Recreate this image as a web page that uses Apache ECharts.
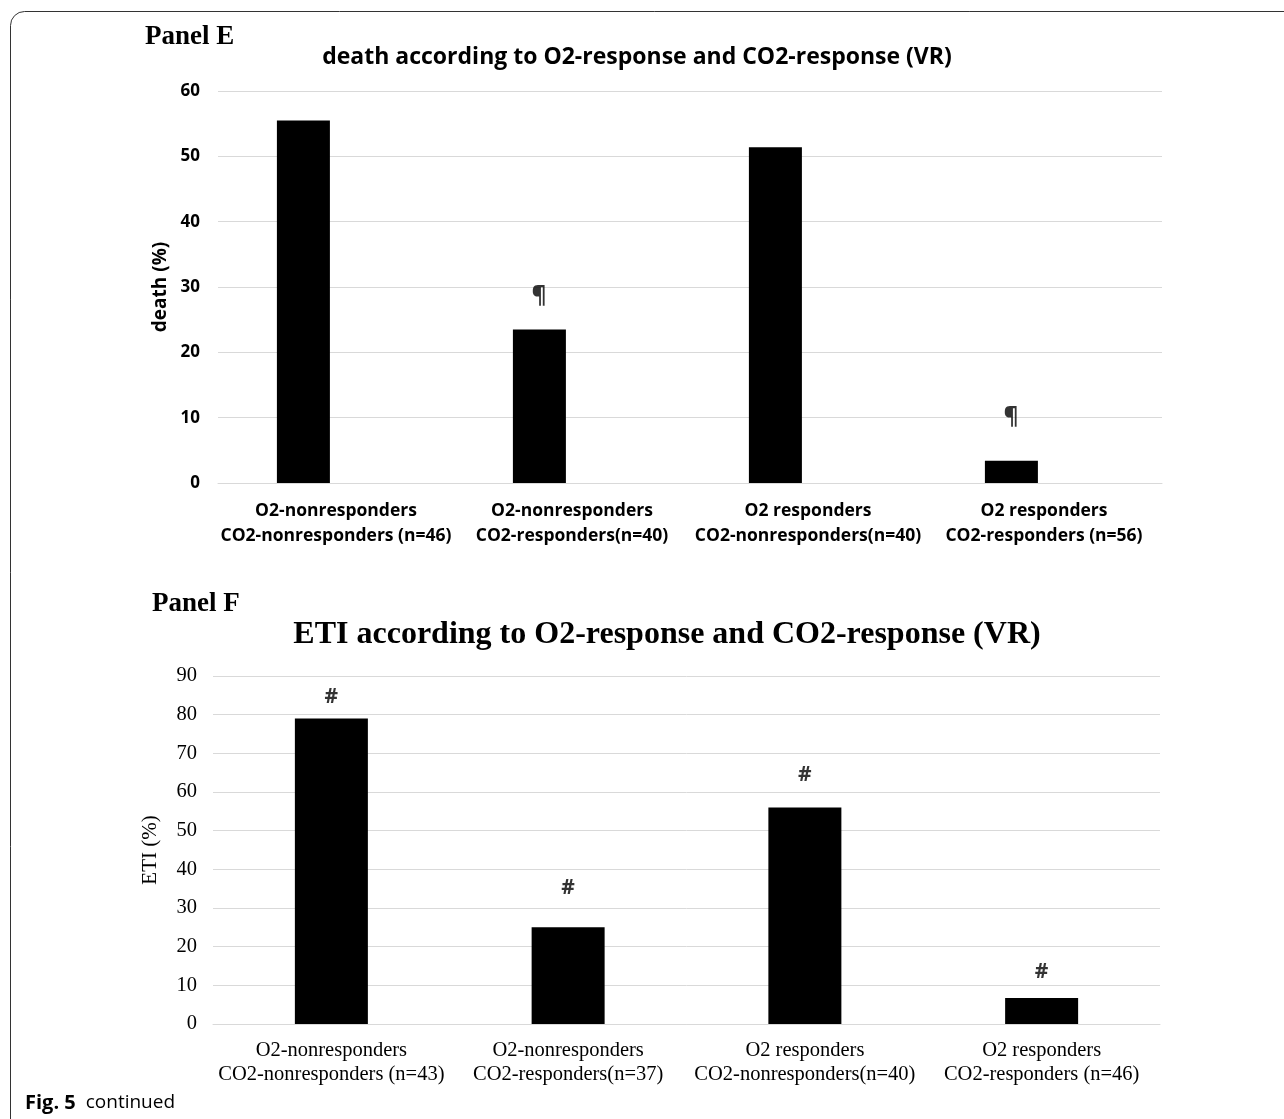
<!DOCTYPE html>
<html>
<head>
<meta charset="utf-8">
<script src="https://cdn.jsdelivr.net/npm/echarts@6/dist/echarts.min.js"></script>
<style>
  html, body { margin: 0; padding: 0; background: #fff; }
  #chart { width: 1284px; height: 1119px; }
</style>
</head>
<body>
<div id="chart"></div>
<script>
// Panel E: mortality by O2 / CO2 ventilatory response
const deathGroups = [
  'O2-nonresponders\nCO2-nonresponders (n=46)',
  'O2-nonresponders\nCO2-responders(n=40)',
  'O2 responders\nCO2-nonresponders(n=40)',
  'O2 responders\nCO2-responders (n=56)'
];
const deathPct = [55.5, 23.5, 51.4, 3.4];
// height (in %) at which the significance sign sits
const deathSignLevel = [null, 28.5, null, 10.0];
const deathAxis = { min: 0, max: 60, step: 10 };

// Panel F: endotracheal intubation by O2 / CO2 ventilatory response
const etiGroups = [
  'O2-nonresponders\nCO2-nonresponders (n=43)',
  'O2-nonresponders\nCO2-responders(n=37)',
  'O2 responders\nCO2-nonresponders(n=40)',
  'O2 responders\nCO2-responders (n=46)'
];
const etiPct = [79, 25, 56, 6.7];
const etiSignLevel = [84.6, 35.2, 64.4, 13.4];
const etiAxis = { min: 0, max: 90, step: 10 };

const SANS = '"Open Sans", "Noto Sans", sans-serif';
const SERIF = '"Liberation Serif", "DejaVu Serif", serif';
const GRID_LINE = '#d9d9d9';

const chart = echarts.init(document.getElementById('chart'), null, { renderer: 'canvas' });

chart.setOption({
  animation: false,
  backgroundColor: '#ffffff',
  grid: [
    { left: 218, right: 122, top: 91, height: 392, containLabel: false },
    { left: 213, right: 124, top: 676, height: 348, containLabel: false }
  ],
  xAxis: [
    {
      type: 'category', gridIndex: 0, data: deathGroups,
      axisLine: { show: true, lineStyle: { color: GRID_LINE, width: 1 } },
      axisTick: { show: false },
      axisLabel: {
        interval: 0, margin: 16, color: '#000',
        fontFamily: SANS, fontWeight: 'bold', fontSize: 17.5, lineHeight: 25
      }
    },
    {
      type: 'category', gridIndex: 1, data: etiGroups,
      axisLine: { show: true, lineStyle: { color: GRID_LINE, width: 1 } },
      axisTick: { show: false },
      axisLabel: {
        interval: 0, margin: 15, color: '#000',
        fontFamily: SERIF, fontSize: 20.5, lineHeight: 24
      }
    }
  ],
  yAxis: [
    {
      type: 'value', gridIndex: 0,
      min: deathAxis.min, max: deathAxis.max, interval: deathAxis.step,
      name: 'death (%)', nameLocation: 'middle', nameGap: 48, nameRotate: 90,
      nameTextStyle: { fontFamily: SANS, fontWeight: 'bold', fontSize: 19, color: '#000' },
      axisLine: { show: false }, axisTick: { show: false },
      axisLabel: { margin: 18, color: '#000', fontFamily: SANS, fontWeight: 'bold', fontSize: 17 },
      splitLine: { lineStyle: { color: GRID_LINE, width: 1 } }
    },
    {
      type: 'value', gridIndex: 1,
      min: etiAxis.min, max: etiAxis.max, interval: etiAxis.step,
      name: 'ETI (%)', nameLocation: 'middle', nameGap: 52, nameRotate: 90,
      nameTextStyle: { fontFamily: SERIF, fontSize: 21, color: '#000' },
      axisLine: { show: false }, axisTick: { show: false },
      axisLabel: { margin: 16, color: '#000', fontFamily: SERIF, fontSize: 20.5 },
      splitLine: { lineStyle: { color: GRID_LINE, width: 1 } }
    }
  ],
  series: [
    {
      name: 'death', type: 'bar', xAxisIndex: 0, yAxisIndex: 0,
      data: deathPct, barWidth: 53, barGap: '23%',
      itemStyle: { color: '#000' }
    },
    {
      // empty second slot of the clustered layout
      name: 'death-empty', type: 'bar', xAxisIndex: 0, yAxisIndex: 0,
      data: deathPct.map(() => null), barWidth: 53,
      itemStyle: { color: '#000' }
    },
    {
      name: 'death-sign', type: 'scatter', xAxisIndex: 0, yAxisIndex: 0,
      data: deathSignLevel, symbolSize: 1, itemStyle: { color: 'rgba(0,0,0,0)' },
      label: {
        show: true, position: 'inside', formatter: '\u00b6', offset: [-33, 0],
        fontFamily: SANS, fontWeight: 'bold', fontSize: 23, color: '#000'
      },
      silent: true
    },
    {
      name: 'eti', type: 'bar', xAxisIndex: 1, yAxisIndex: 1,
      data: etiPct, barWidth: 73,
      itemStyle: { color: '#000' }
    },
    {
      name: 'eti-sign', type: 'scatter', xAxisIndex: 1, yAxisIndex: 1,
      data: etiSignLevel, symbolSize: 1, itemStyle: { color: 'rgba(0,0,0,0)' },
      label: {
        show: true, position: 'inside', formatter: '#',
        fontFamily: SANS, fontWeight: 'bold', fontSize: 21, color: '#000'
      },
      silent: true
    }
  ],
  graphic: [
    {
      type: 'rect', silent: true,
      shape: { x: 10.5, y: 11.5, width: 1400, height: 1300, r: [14, 0, 0, 0] },
      style: { fill: 'none', stroke: '#333', lineWidth: 1 }
    },
    {
      type: 'text', x: 145, y: 37,
      style: { text: 'Panel E', font: 'bold 27px ' + SERIF, fill: '#000', textVerticalAlign: 'middle' }
    },
    {
      type: 'text', x: 637, y: 57,
      style: {
        text: 'death according to O2-response and CO2-response (VR)',
        font: 'bold 23px ' + SANS, fill: '#000', textAlign: 'center', textVerticalAlign: 'middle'
      }
    },
    {
      type: 'text', x: 152, y: 604,
      style: { text: 'Panel F', font: 'bold 27px ' + SERIF, fill: '#000', textVerticalAlign: 'middle' }
    },
    {
      type: 'text', x: 667, y: 635,
      style: {
        text: 'ETI according to O2-response and CO2-response (VR)',
        font: 'bold 32px ' + SERIF, fill: '#000', textAlign: 'center', textVerticalAlign: 'middle'
      }
    },
    {
      type: 'text', x: 25, y: 1103,
      style: {
        text: '{b|Fig. 5}   {r|continued}',
        textVerticalAlign: 'middle',
        rich: {
          b: { fontFamily: SANS, fontWeight: 'bold', fontSize: 20, color: '#231f20' },
          r: { fontFamily: SANS, fontSize: 19, color: '#231f20' }
        }
      }
    }
  ]
});
</script>
</body>
</html>
